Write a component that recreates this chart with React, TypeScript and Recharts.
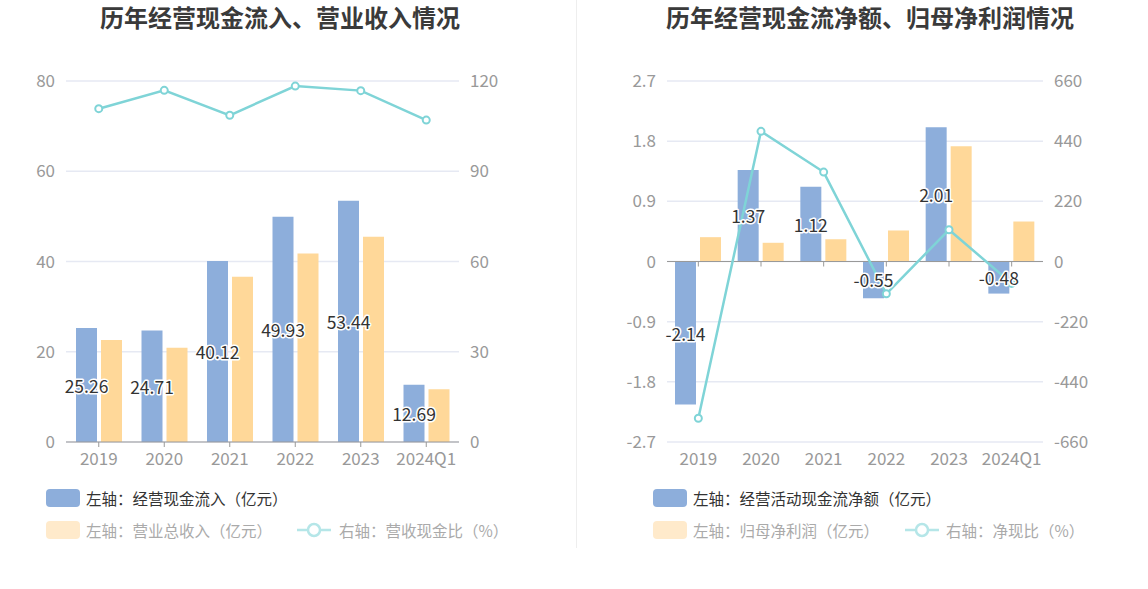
import React from 'react';
import {
  ComposedChart,
  Bar,
  Line,
  XAxis,
  YAxis,
  CartesianGrid,
  LabelList,
  ReferenceLine,
} from 'recharts';

const years = ['2019', '2020', '2021', '2022', '2023', '2024Q1'];

// left chart
const cashInflow = [25.26, 24.71, 40.12, 49.93, 53.44, 12.69];
const revenue = [22.6, 20.9, 36.6, 41.8, 45.5, 11.7];
const cashRevenueRatio = [110.8, 116.9, 108.6, 118.3, 116.8, 107.0];
const leftTicksA = [0, 20, 40, 60, 80];
const leftTicksB = [0, 30, 60, 90, 120];

// right chart
const netCashFlow = [-2.14, 1.37, 1.12, -0.55, 2.01, -0.48];
const netProfit = [0.364, 0.28, 0.334, 0.464, 1.725, 0.598];
const netCashRatio = [-573, 476, 327, -118, 116, -80];
const rightTicksA = [-2.7, -1.8, -0.9, 0, 0.9, 1.8, 2.7];
const rightTicksB = [-660, -440, -220, 0, 220, 440, 660];

const FONT = '"Noto Sans CJK SC", "Noto Sans", sans-serif';
const BLUE = '#8DAEDB';
const YELLOW = '#FFD899';
const CYAN = '#7FD4D7';
const GRID = '#E6E9F3';
const AXIS_TEXT = '#999';

const leftData = years.map((year, i) => ({
  year,
  inflow: cashInflow[i],
  revenue: revenue[i],
  ratio: cashRevenueRatio[i],
}));

const rightData = years.map((year, i) => ({
  year,
  net: netCashFlow[i],
  profit: netProfit[i],
  ratio: netCashRatio[i],
}));

const BarLabel = (props: any) => {
  const { x, y, width, height, value } = props;
  return (
    <text
      x={Number(x) + Number(width) / 2}
      y={Number(y) + Number(height) / 2}
      textAnchor="middle"
      dominantBaseline="central"
      fontSize={17.5}
      fontFamily={FONT}
      fill="#333"
      stroke="#fff"
      strokeWidth={3}
      strokeLinejoin="round"
      paintOrder="stroke"
    >
      {Number(value).toFixed(2)}
    </text>
  );
};

const tickStyle = { fill: AXIS_TEXT, fontSize: 17, fontFamily: FONT };
const dotStyle = { r: 3.5, fill: '#fff', stroke: CYAN, strokeWidth: 2 };

const Title = ({ text, cx }: { text: string; cx: number }) => (
  <div
    style={{
      position: 'absolute',
      left: cx - 250,
      width: 500,
      top: 2,
      textAlign: 'center',
      fontSize: 24,
      fontWeight: 700,
      color: '#3a3a3a',
      fontFamily: FONT,
      lineHeight: '30px',
    }}
  >
    {text}
  </div>
);

const LegendRect = ({ x, y, color }: { x: number; y: number; color: string }) => (
  <div
    style={{
      position: 'absolute',
      left: x,
      top: y,
      width: 34,
      height: 18,
      borderRadius: 4,
      background: color,
    }}
  />
);

const LegendText = ({ x, y, text, color }: { x: number; y: number; text: string; color: string }) => (
  <div
    style={{
      position: 'absolute',
      left: x,
      top: y - 12,
      height: 24,
      lineHeight: '24px',
      fontSize: 15.5,
      color,
      fontFamily: FONT,
      whiteSpace: 'nowrap',
    }}
  >
    {text}
  </div>
);

const LegendLine = ({ x, y }: { x: number; y: number }) => (
  <svg style={{ position: 'absolute', left: x, top: y - 9 }} width={34} height={18}>
    <line x1={0} y1={9} x2={34} y2={9} stroke="#B5E6E8" strokeWidth={2.5} />
    <circle cx={17} cy={9} r={6} fill="#fff" stroke="#B5E6E8" strokeWidth={2.5} />
  </svg>
);

export default function App() {
  return (
    <div
      style={{
        position: 'absolute',
        left: 0,
        top: 0,
        width: 1148,
        height: 589,
        background: '#fff',
        overflow: 'hidden',
      }}
    >
      <Title text="历年经营现金流入、营业收入情况" cx={280} />
      <Title text="历年经营现金流净额、归母净利润情况" cx={870} />

      <div
        style={{ position: 'absolute', left: 576, top: 0, width: 1, height: 548, background: '#EEEEEE' }}
      />

      {/* left chart */}
      <div style={{ position: 'absolute', left: 0, top: 0 }}>
        <ComposedChart
          width={576}
          height={480}
          data={leftData}
          margin={{ top: 81, right: 57, bottom: 8, left: 0 }}
          barSize={21}
          barGap={4}
        >
          <CartesianGrid yAxisId="a" vertical={false} stroke={GRID} strokeWidth={1.5} />
          <XAxis
            dataKey="year"
            height={30}
            tick={tickStyle}
            tickSize={5}
            tickMargin={6}
            axisLine={{ stroke: '#999' }}
            tickLine={{ stroke: '#999' }}
          />
          <YAxis
            yAxisId="a"
            width={66}
            domain={[0, 80]}
            ticks={leftTicksA}
            tick={tickStyle}
            tickSize={0}
            tickMargin={11}
            axisLine={false}
            tickLine={false}
          />
          <YAxis
            yAxisId="b"
            orientation="right"
            width={60}
            domain={[0, 120]}
            ticks={leftTicksB}
            tick={{ ...tickStyle, textAnchor: 'start' }}
            tickSize={0}
            tickMargin={11}
            axisLine={false}
            tickLine={false}
          />
          <Bar yAxisId="a" dataKey="inflow" fill={BLUE} isAnimationActive={false}>
            <LabelList dataKey="inflow" content={BarLabel} />
          </Bar>
          <Bar yAxisId="a" dataKey="revenue" fill={YELLOW} isAnimationActive={false} />
          <Line
            yAxisId="b"
            dataKey="ratio"
            stroke={CYAN}
            strokeWidth={2.5}
            dot={dotStyle}
            activeDot={false}
            isAnimationActive={false}
          />
        </ComposedChart>
      </div>

      {/* right chart */}
      <div style={{ position: 'absolute', left: 576, top: 0 }}>
        <ComposedChart
          width={572}
          height={480}
          data={rightData}
          margin={{ top: 81, right: 45, bottom: 8, left: 0 }}
          barSize={21}
          barGap={4}
        >
          <CartesianGrid yAxisId="a" vertical={false} stroke={GRID} strokeWidth={1.5} />
          <XAxis
            dataKey="year"
            height={30}
            tick={tickStyle}
            tickSize={5}
            tickMargin={6}
            axisLine={false}
            tickLine={false}
          />
          <YAxis
            yAxisId="a"
            width={91}
            domain={[-2.7, 2.7]}
            ticks={rightTicksA}
            tick={tickStyle}
            tickSize={0}
            tickMargin={11}
            axisLine={false}
            tickLine={false}
          />
          <YAxis
            yAxisId="b"
            orientation="right"
            width={60}
            domain={[-660, 660]}
            ticks={rightTicksB}
            tick={{ ...tickStyle, textAnchor: 'start' }}
            tickSize={0}
            tickMargin={11}
            axisLine={false}
            tickLine={false}
          />
          <ReferenceLine yAxisId="a" y={0} stroke="#999" strokeWidth={1} />
          {years.map((yr) => (
            <ReferenceLine
              key={yr}
              yAxisId="a"
              segment={[
                { x: yr, y: 0 },
                { x: yr, y: -0.075 },
              ]}
              stroke="#999"
            />
          ))}
          <Bar yAxisId="a" dataKey="net" fill={BLUE} isAnimationActive={false}>
            <LabelList dataKey="net" content={BarLabel} />
          </Bar>
          <Bar yAxisId="a" dataKey="profit" fill={YELLOW} isAnimationActive={false} />
          <Line
            yAxisId="b"
            dataKey="ratio"
            stroke={CYAN}
            strokeWidth={2.5}
            dot={dotStyle}
            activeDot={false}
            isAnimationActive={false}
          />
        </ComposedChart>
      </div>

      {/* left legend */}
      <LegendRect x={46} y={489} color={BLUE} />
      <LegendText x={86} y={498} text="左轴：经营现金流入（亿元）" color="#333" />
      <LegendRect x={46} y={521} color="#FFEACB" />
      <LegendText x={86} y={530} text="左轴：营业总收入（亿元）" color="#AAA" />
      <LegendLine x={297} y={530} />
      <LegendText x={339} y={530} text="右轴：营收现金比（%）" color="#AAA" />

      {/* right legend */}
      <LegendRect x={653} y={489} color={BLUE} />
      <LegendText x={693} y={498} text="左轴：经营活动现金流净额（亿元）" color="#333" />
      <LegendRect x={653} y={521} color="#FFEACB" />
      <LegendText x={693} y={530} text="左轴：归母净利润（亿元）" color="#AAA" />
      <LegendLine x={905} y={530} />
      <LegendText x={946} y={530} text="右轴：净现比（%）" color="#AAA" />
    </div>
  );
}
